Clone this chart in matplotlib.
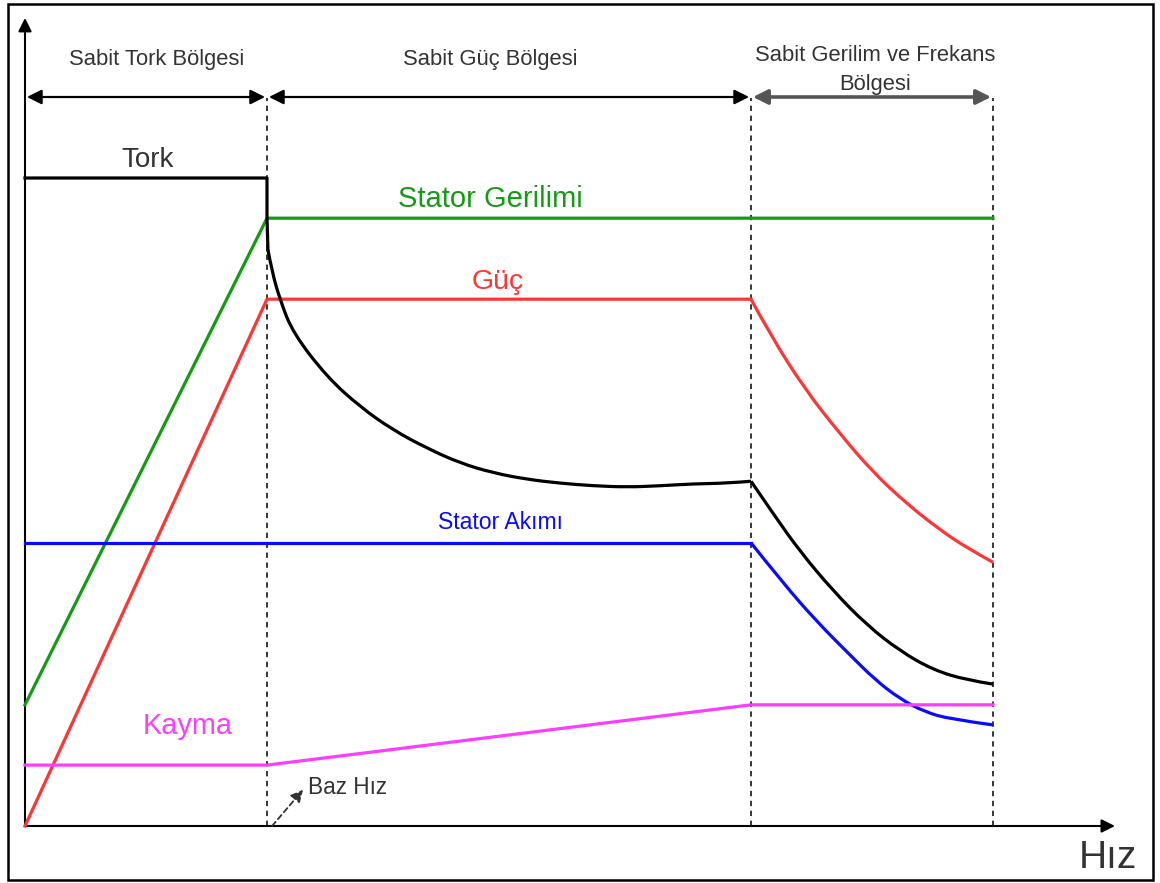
import matplotlib
matplotlib.use("Agg")
import matplotlib.pyplot as plt
from matplotlib.patches import Rectangle, PathPatch
from matplotlib.path import Path

plt.rcParams['font.family'] = ['Liberation Sans', 'DejaVu Sans']

# ---- data (speed in per-unit of base speed, values in % of rated torque) ----
base_speed = 1.0
fw_end_speed = 3.0
max_speed = 4.0

# torque: constant part, then two curved parts
torque_flat_speed = [0, 1.0, 1.0, 1.004]
torque_flat_value = [100, 100, 93.8, 88.9]
torque_fw_speed = [1.004, 1.021, 1.054, 1.107, 1.248, 1.384, 1.521, 1.661, 1.798,
                   1.934, 2.074, 2.211, 2.347, 2.488, 2.624, 2.760, 2.901, 3.0]
torque_fw_value = [88.9, 85.5, 81.2, 76.1, 69.3, 64.7, 61.1, 58.3, 56.0,
                   54.5, 53.5, 52.9, 52.5, 52.3, 52.5, 52.8, 52.9, 53.2]
torque_hs_speed = [3.0, 3.099, 3.202, 3.339, 3.479, 3.616, 3.752, 3.893, 4.0]
torque_hs_value = [53.2, 47.8, 42.4, 36.3, 31.0, 27.0, 24.1, 22.5, 21.9]

voltage_speed = [0, 1.0, 4.0]
voltage_value = [18.7, 93.8, 93.8]

power_flat_speed = [0, 1.0, 3.0]
power_flat_value = [0, 81.3, 81.3]
power_hs_speed = [3.0, 3.083, 3.223, 3.368, 3.504, 3.645, 3.781, 3.893, 4.0]
power_hs_value = [81.3, 75.6, 67.4, 60.5, 54.6, 49.7, 45.7, 42.9, 40.7]

current_flat_speed = [0, 3.0]
current_flat_value = [43.7, 43.7]
current_hs_speed = [3.0, 3.132, 3.273, 3.409, 3.512, 3.616, 3.719, 3.822, 4.0]
current_hs_value = [43.7, 37.5, 31.5, 26.4, 22.6, 19.6, 17.6, 16.5, 15.6]

slip_speed = [0, 1.0, 3.0, 4.0]
slip_value = [9.4, 9.4, 18.7, 18.7]

region_labels = ["Sabit Tork Bölgesi", "Sabit Güç Bölgesi", "Sabit Gerilim ve Frekans\nBölgesi"]
region_bounds = [0, base_speed, fw_end_speed, max_speed]

GREEN = "#149b14"
RED = "#ff3535"
BLUE = "#0a0aff"
MAGENTA = "#ff3cff"
GRAY = "#333333"


def smooth_curve(xs, ys):
    """Quadratic-Bezier path using the read points as control points."""
    pts = list(zip(xs, ys))
    verts = [pts[0]]
    codes = [Path.MOVETO]
    n = len(pts)
    if n == 2:
        verts.append(pts[1]); codes.append(Path.LINETO)
        return Path(verts, codes)
    for i in range(1, n - 1):
        if i < n - 2:
            end = ((pts[i][0] + pts[i + 1][0]) / 2, (pts[i][1] + pts[i + 1][1]) / 2)
        else:
            end = pts[n - 1]
        verts += [pts[i], end]
        codes += [Path.CURVE3, Path.CURVE3]
    return Path(verts, codes)


fig = plt.figure(figsize=(11.6, 8.83), dpi=100)
ax = fig.add_axes([0, 0, 1, 1])
ax.set_xlim(-25 / 242, 1135 / 242)
ax.set_ylim(-57 / 6.48, 826 / 6.48)
ax.axis('off')

# border
fig.patches.append(Rectangle((8 / 1160, 3 / 883), 1145 / 1160, 876 / 883,
                             transform=fig.transFigure, fill=False,
                             edgecolor='black', linewidth=1.8))

# axes arrows
ax.annotate('', xy=(0, 124.7), xytext=(0, 0),
            arrowprops=dict(arrowstyle='-|>', color='black', lw=1.5, mutation_scale=20,
                            shrinkA=0, shrinkB=0))
ax.annotate('', xy=(4.504, 0), xytext=(0, 0),
            arrowprops=dict(arrowstyle='-|>', color='black', lw=1.5, mutation_scale=20,
                            shrinkA=0, shrinkB=0))

# dashed boundaries
for xb in region_bounds[1:]:
    ax.plot([xb, xb], [0, 112.3], color='black', lw=1.1, linestyle=(0, (3.5, 3)), zorder=1)

# region double arrows
arrow_y = 112.5
for i in range(3):
    col = 'black' if i < 2 else '#555555'
    lw = 1.6 if i < 2 else 2.6
    ax.annotate('', xy=(region_bounds[i + 1] - 0.008, arrow_y), xytext=(region_bounds[i] + 0.008, arrow_y),
                arrowprops=dict(arrowstyle='<|-|>', color=col, lw=lw, mutation_scale=22,
                                shrinkA=0, shrinkB=0))
ax.text(0.545, 118.3, region_labels[0], ha='center', va='center', fontsize=15.8, color=GRAY)
ax.text(1.921, 118.3, region_labels[1], ha='center', va='center', fontsize=15.8, color=GRAY)
ax.text(3.512, 116.6, region_labels[2], ha='center', va='center', fontsize=15.8, color=GRAY,
        linespacing=1.5)

# curves
lw = 2.3
ax.plot(voltage_speed, voltage_value, color=GREEN, lw=lw, solid_joinstyle='round', zorder=3)

ax.plot(power_flat_speed, power_flat_value, color=RED, lw=lw, solid_joinstyle='round', zorder=3)
ax.add_patch(PathPatch(smooth_curve(power_hs_speed, power_hs_value), fill=False,
                       edgecolor=RED, lw=lw, zorder=3))

ax.plot(current_flat_speed, current_flat_value, color=BLUE, lw=lw, zorder=3)
ax.add_patch(PathPatch(smooth_curve(current_hs_speed, current_hs_value), fill=False,
                       edgecolor=BLUE, lw=lw, zorder=3))

ax.plot(slip_speed, slip_value, color=MAGENTA, lw=lw, solid_joinstyle='round', zorder=3)

ax.plot(torque_flat_speed, torque_flat_value, color='black', lw=lw, solid_joinstyle='round', zorder=4)
ax.add_patch(PathPatch(smooth_curve(torque_fw_speed, torque_fw_value), fill=False,
                       edgecolor='black', lw=lw, zorder=4))
ax.add_patch(PathPatch(smooth_curve(torque_hs_speed, torque_hs_value), fill=False,
                       edgecolor='black', lw=lw, zorder=4))

# curve labels
ax.text(0.508, 102.8, "Tork", ha='center', va='center', fontsize=20, color=GRAY)
ax.text(1.921, 96.7, "Stator Gerilimi", ha='center', va='center', fontsize=21, color=GREEN)
ax.text(1.955, 84.0, "Güç", ha='center', va='center', fontsize=20.5, color=RED)
ax.text(1.963, 46.8, "Stator Akımı", ha='center', va='center', fontsize=16.6, color=BLUE)
ax.text(0.674, 15.4, "Kayma", ha='center', va='center', fontsize=20.8, color=MAGENTA)

# base speed
ax.annotate('', xy=(1.149, 5.6), xytext=(1.021, 0),
            arrowprops=dict(arrowstyle='-|>', color='#333333', lw=1.3, linestyle=(0, (3, 2)),
                            mutation_scale=18, shrinkA=0, shrinkB=0))
ax.text(1.169, 6.0, "Baz Hız", ha='left', va='center', fontsize=16.3, color=GRAY)

ax.text(4.475, -4.9, "Hız", ha='center', va='center', fontsize=28, color=GRAY)

fig.savefig("out.png", dpi=100)
